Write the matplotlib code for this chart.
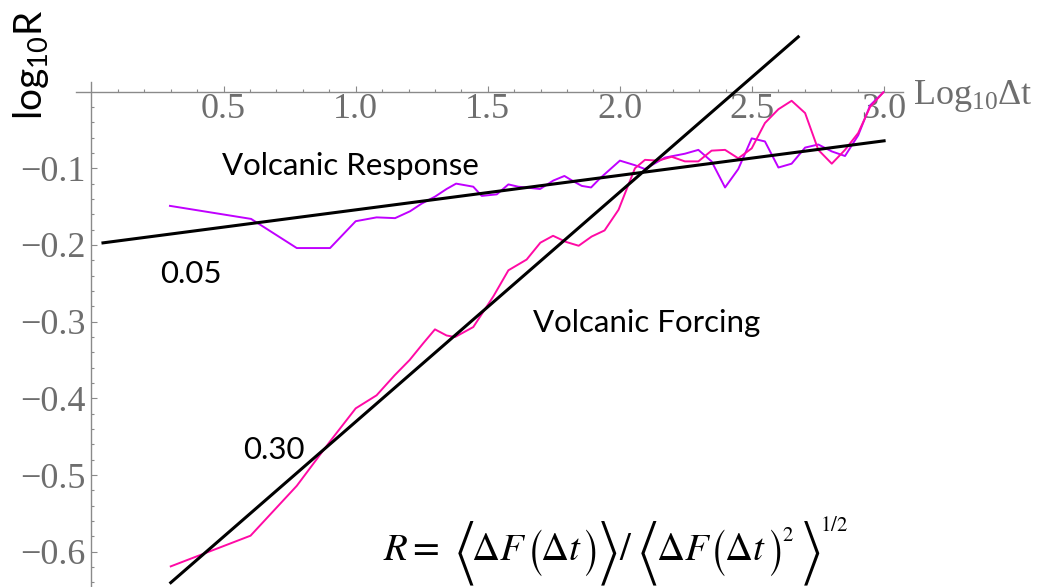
import numpy as np
import matplotlib
matplotlib.use('Agg')
import matplotlib.pyplot as plt

# --- data (log10 dt, log10 R) ---
resp_x = [0.297, 0.604, 0.777, 0.903, 1.000, 1.079, 1.149, 1.206, 1.250, 1.300,
          1.344, 1.380, 1.445, 1.477, 1.534, 1.578, 1.615, 1.698, 1.748, 1.790,
          1.824, 1.856, 1.891, 1.925, 2.000, 2.057, 2.095, 2.171, 2.246, 2.297,
          2.347, 2.398, 2.448, 2.499, 2.549, 2.600, 2.650, 2.701, 2.751, 2.802,
          2.852, 2.902, 2.947, 2.997]
resp_y = [-0.149, -0.166, -0.204, -0.204, -0.169, -0.164, -0.165, -0.156, -0.146, -0.137,
          -0.127, -0.120, -0.124, -0.136, -0.134, -0.121, -0.124, -0.127, -0.116, -0.110,
          -0.117, -0.123, -0.125, -0.113, -0.090, -0.096, -0.101, -0.086, -0.081, -0.076,
          -0.091, -0.125, -0.101, -0.061, -0.065, -0.099, -0.094, -0.073, -0.069, -0.078,
          -0.084, -0.057, -0.018, -0.001]

forc_x = [0.300, 0.602, 0.777, 0.903, 1.000, 1.079, 1.147, 1.204, 1.256, 1.300,
          1.344, 1.376, 1.445, 1.521, 1.578, 1.647, 1.699, 1.747, 1.796, 1.844,
          1.893, 1.942, 1.995, 2.027, 2.057, 2.095, 2.145, 2.196, 2.246, 2.297,
          2.347, 2.398, 2.448, 2.499, 2.549, 2.600, 2.650, 2.701, 2.751, 2.802,
          2.852, 2.902, 2.947, 2.997]
forc_y = [-0.619, -0.579, -0.514, -0.456, -0.413, -0.396, -0.370, -0.350, -0.328, -0.310,
          -0.318, -0.320, -0.307, -0.267, -0.233, -0.219, -0.197, -0.188, -0.196, -0.201,
          -0.189, -0.181, -0.154, -0.126, -0.100, -0.089, -0.090, -0.085, -0.091, -0.091,
          -0.077, -0.076, -0.087, -0.074, -0.041, -0.023, -0.012, -0.028, -0.076, -0.094,
          -0.076, -0.054, -0.020, -0.001]

# fitted power-law lines: slope, intercept and x-extent
resp_slope, resp_icpt = 0.045, -0.1992
resp_fit_x = np.array([0.0435, 3.0])
forc_slope, forc_icpt = 0.2996, -0.7301
forc_fit_x = np.array([0.30, 2.675])

xticks = [0.5, 1.0, 1.5, 2.0, 2.5, 3.0]
xticklabels = ['0.5', '1.0', '1.5', '2.0', '2.5', '3.0']
yticks = [-0.1, -0.2, -0.3, -0.4, -0.5, -0.6]
yticklabels = ['\u22120.1', '\u22120.2', '\u22120.3', '\u22120.4', '\u22120.5', '\u22120.6']

plt.rcParams['mathtext.fontset'] = 'stix'

W, H = 1039, 587
fig = plt.figure(figsize=(W / 100, H / 100), dpi=100)
ax = fig.add_axes([0, 0, 1, 1])
ax.set_xlim(-0.3463, 3.5863)
ax.set_ylim(-0.6459, 0.1194)
ax.patch.set_alpha(0)

gray = '#6e6e6e'
for s in ['top', 'right']:
    ax.spines[s].set_visible(False)
ax.spines['bottom'].set_position(('data', 0))
ax.spines['left'].set_position(('data', 0))
ax.spines['bottom'].set_bounds(-0.06, 3.07)
ax.spines['left'].set_bounds(-0.6459, 0.013)
for s in ['bottom', 'left']:
    ax.spines[s].set_color('#8a8a8a')
    ax.spines[s].set_linewidth(1.0)

ax.set_xticks(xticks)
ax.set_xticklabels(xticklabels)
ax.set_xticks(np.arange(0.1, 3.0, 0.1), minor=True)
ax.set_yticks(yticks)
ax.set_yticklabels(yticklabels)
ax.set_yticks(np.arange(-0.64, 0.0, 0.02), minor=True)
ax.tick_params(which='both', direction='in', color='#8a8a8a', width=0.8,
               labelcolor=gray, labelsize=26, labelfontfamily='Liberation Serif')
ax.tick_params(which='major', length=4)
ax.tick_params(which='minor', length=2)
ax.tick_params(axis='x', which='major', pad=1)
ax.tick_params(axis='y', which='major', pad=4)

ax.plot(resp_x, resp_y, color='#C000FF', lw=1.4, zorder=4)
ax.plot(forc_x, forc_y, color='#FF0AA5', lw=1.4, zorder=4)
ax.plot(resp_fit_x, resp_icpt + resp_slope * resp_fit_x, color='black', lw=2.2, zorder=5)
ax.plot(forc_fit_x, forc_icpt + forc_slope * forc_fit_x, color='black', lw=2.2, zorder=5)

sans = ['Lato', 'DejaVu Sans']
ax.text(0.494, -0.1087, 'Volcanic Response', fontsize=22.5, family=sans, va='baseline')
ax.text(1.671, -0.3134, 'Volcanic Forcing', fontsize=22.5, family=sans, va='baseline')
ax.text(0.259, -0.2495, '0.05', fontsize=22.5, family=sans, va='baseline')
ax.text(0.573, -0.479, '0.30', fontsize=22.5, family=sans, va='baseline')

ax.text(3.109, -0.0163, '$\\mathregular{Log_{10}\u0394t}$', fontsize=26,
        family='Liberation Serif', color=gray, va='baseline')
ax.text(-0.229, 0.0347, r'$\mathregular{log_{10}R}$', fontsize=28, family=sans,
        rotation=90, ha='center', va='center')


# formula R = <dF(dt)> / <dF(dt)^2>^(1/2), built piece by piece so the
# angle brackets and parentheses can use the tall STIX size variants
def put(s, xpx, ypx, size, va='baseline', family=None):
    fig.text(xpx / W, 1 - ypx / H, s, fontsize=size, va=va, ha='left',
             family=family)


def delim(ch, xpx, ypx, size, fam):
    put('$\\mathregular{' + ch + '}$', xpx, ypx, size, 'center', [fam, 'DejaVu Sans'])


base = 560
big = 'STIXSizeTwoSym'
mid = 'STIXSizeOneSym'
put(r'$R=$', 383, base, 28)
delim('\u27e8', 454, 554, 25, big)
put(r'$\Delta F$', 471, base, 28)
delim('(', 526, 553, 27, mid)
put(r'$\Delta t$', 540, base, 28)
delim(')', 582, 553, 27, mid)
delim('\u27e9', 597, 554, 25, big)
put(r'$/$', 619, base, 28)
delim('\u27e8', 637, 554, 25, big)
put(r'$\Delta F$', 656, base, 28)
delim('(', 709, 553, 27, mid)
put(r'$\Delta t$', 724, base, 28)
delim(')', 767, 553, 27, mid)
put(r'$2$', 782, 541, 15)
delim('\u27e9', 800, 554, 25, big)
put(r'$1/2$', 820, 531, 15)

fig.savefig('out.png', dpi=100)
